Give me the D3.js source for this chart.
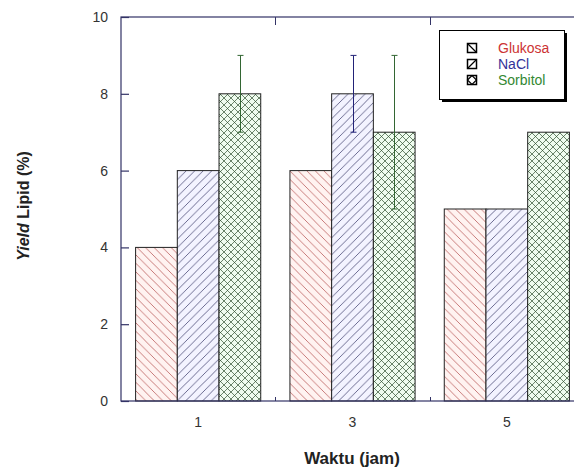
<!DOCTYPE html>
<html><head><meta charset="utf-8">
<script src="https://cdn.jsdelivr.net/npm/d3@7/dist/d3.min.js"></script>
<style>body{margin:0;background:#fff;}svg{display:block;font-family:Arial,"Liberation Sans",sans-serif;}</style>
</head><body>
<svg id="c" width="574" height="471"></svg>
<script>
const categories = ["1","3","5"];
const seriesNames = ["Glukosa","NaCl","Sorbitol"];
const glukosa = [4,6,5];
const nacl = [6,8,5];
const sorbitol = [8,7,7];
const errGlukosa = [0,0,0];
const errNacl = [0,1,0];
const errSorbitol = [1,2,0];
const yTicks = [0,2,4,6,8,10];

const values = [glukosa, nacl, sorbitol];
const errs = [errGlukosa, errNacl, errSorbitol];
const bgCol = ["#fff3f1","#f3f3ff","#effcef"];
const textCol = ["#cc3333","#333399","#338833"];
const errCol = ["#cc3333","#222277","#336633"];

const svg = d3.select("#c");
const L=121, R=584, T=17, B=401;
const axisCol = "#333366";

// patterns
const defs = svg.append("defs");
const S = 8.5;
function pat(id, bg, d, col){
  const p = defs.append("pattern").attr("id",id).attr("patternUnits","userSpaceOnUse").attr("width",S).attr("height",S);
  p.append("rect").attr("width",S).attr("height",S).attr("fill",bg);
  p.append("path").attr("d",d).attr("stroke",col).attr("stroke-width",0.7).attr("fill","none");
}
const dBack = `M-1,-1L${S+1},${S+1}M-1,${S-1}L1,${S+1}M${S-1},-1L${S+1},1`;
const dFwd = `M-1,${S+1}L${S+1},-1M-1,1L1,-1M${S-1},${S+1}L${S+1},${S-1}`;
pat("p0", bgCol[0], dBack, "#b04848");
pat("p1", bgCol[1], dFwd, "#303060");
defs.append("pattern").attr("id","p2").attr("patternUnits","userSpaceOnUse").attr("width",7).attr("height",7)
  .call(p=>{p.append("rect").attr("width",7).attr("height",7).attr("fill",bgCol[2]);
    p.append("path").attr("d","M-1,-1L8,8M-1,6L1,8M6,-1L8,1M-1,8L8,-1M-1,1L1,-1M6,8L8,6").attr("stroke","#2f4f2f").attr("stroke-width",0.7);});

const x = d3.scaleBand().domain(categories).range([L,R]).paddingInner(0).paddingOuter(0);
const xs = d3.scaleBand().domain(seriesNames).range([0,x.bandwidth()]).paddingOuter(0.35).paddingInner(0);
const y = d3.scaleLinear().domain([0,10]).range([B,T]);

// bars
seriesNames.forEach((s,si)=>{
  const g = svg.append("g");
  g.selectAll("rect").data(categories).join("rect")
    .attr("x",c=>x(c)+xs(s)).attr("y",(c,i)=>y(values[si][i]))
    .attr("width",xs.bandwidth()).attr("height",(c,i)=>B-y(values[si][i]))
    .attr("fill",`url(#p${si})`).attr("stroke","#222").attr("stroke-width",1);
});
// error bars
seriesNames.forEach((s,si)=>{
  categories.forEach((c,i)=>{
    const e = errs[si][i]; if(!e) return;
    const cx = Math.round(x(c)+xs(s)+xs.bandwidth()/2)+0.5;
    const v = values[si][i];
    const g = svg.append("g").attr("stroke",errCol[si]).attr("stroke-width",1);
    g.append("line").attr("x1",cx).attr("x2",cx).attr("y1",y(v-e)).attr("y2",y(v+e));
    g.append("line").attr("x1",cx-3).attr("x2",cx+3).attr("y1",y(v+e)).attr("y2",y(v+e));
    g.append("line").attr("x1",cx-3).attr("x2",cx+3).attr("y1",y(v-e)).attr("y2",y(v-e));
  });
});

// frame
svg.append("rect").attr("x",L).attr("y",T).attr("width",R-L).attr("height",B-T).attr("fill","none").attr("stroke",axisCol).attr("stroke-width",1.2);

// y axis
const yAx = svg.append("g").attr("transform",`translate(${L},0)`)
  .call(d3.axisLeft(y).tickValues(yTicks).tickSize(-8).tickPadding(13).tickFormat(d3.format("d")));
yAx.select(".domain").remove();
yAx.selectAll("line").attr("stroke",axisCol).attr("stroke-width",1.2);
yAx.selectAll("text").attr("font-size",14).attr("fill","#333").attr("font-family","Arial,'Liberation Sans',sans-serif");

// x axis
const xAx = svg.append("g").attr("transform",`translate(0,${B})`)
  .call(d3.axisBottom(x).tickSize(0).tickPadding(16));
xAx.select(".domain").remove();
xAx.selectAll("text").attr("font-size",14).attr("fill","#333").attr("font-family","Arial,'Liberation Sans',sans-serif");
// boundary ticks
const bounds = categories.slice(1).map(c=>x(c));
svg.append("g").selectAll("line").data(bounds).join("line")
  .attr("x1",d=>Math.round(d)+0.5).attr("x2",d=>Math.round(d)+0.5).attr("y1",B).attr("y2",B-4)
  .attr("stroke",axisCol).attr("stroke-width",1);
svg.append("g").selectAll("line").data(bounds).join("line")
  .attr("x1",d=>Math.round(d)+0.5).attr("x2",d=>Math.round(d)+0.5).attr("y1",T).attr("y2",T+8)
  .attr("stroke",axisCol).attr("stroke-width",1);

// axis titles
svg.append("text").attr("x",352).attr("y",464).attr("text-anchor","middle")
  .attr("font-size",17).attr("font-weight","bold").attr("fill","#222").text("Waktu (jam)");
const yt = svg.append("text").attr("transform","translate(29,206) rotate(-90)").attr("text-anchor","middle")
  .attr("font-size",16).attr("font-weight","bold").attr("fill","#222");
yt.append("tspan").attr("font-style","italic").text("Yield");
yt.append("tspan").text(" Lipid (%)");

// legend
const lg = svg.append("g");
lg.append("rect").attr("x",442).attr("y",33).attr("width",125).attr("height",69).attr("fill","#000");
lg.append("rect").attr("x",439.5).attr("y",30.5).attr("width",125).attr("height",69).attr("fill","#fff").attr("stroke","#000").attr("stroke-width",1);
const rowsY = [48,64,80];
seriesNames.forEach((s,si)=>{
  lg.append("rect").attr("x",467.5).attr("y",rowsY[si]-4.5).attr("width",9).attr("height",9)
    .attr("fill","#fff").attr("stroke","#000").attr("stroke-width",1.5);
  lg.append("path").attr("d", si===0 ? `M467.5,${rowsY[si]-4.5}L476.5,${rowsY[si]+4.5}` :
      si===1 ? `M467.5,${rowsY[si]+4.5}L476.5,${rowsY[si]-4.5}` :
      `M467.5,${rowsY[si]}L472,${rowsY[si]-4.5}L476.5,${rowsY[si]}L472,${rowsY[si]+4.5}Z`)
    .attr("stroke","#000").attr("stroke-width",1.2).attr("fill","none");
  lg.append("text").attr("x",498).attr("y",rowsY[si]+5).attr("font-size",14).attr("fill",textCol[si]).text(s);
});
</script>
</body></html>
